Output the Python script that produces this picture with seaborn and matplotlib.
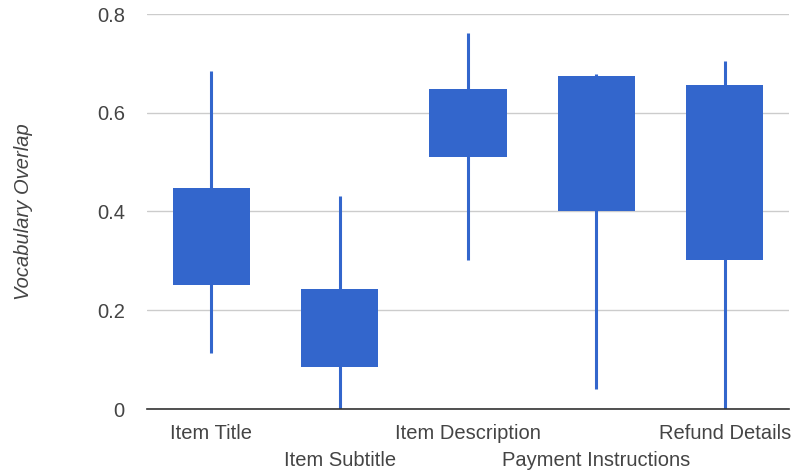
import pandas as pd
import matplotlib.pyplot as plt
import matplotlib.transforms as mtransforms
import seaborn as sns

# candlestick-like chart: whisker = low..high, box = q1..q3
categories = ["Item Title", "Item Subtitle", "Item Description",
              "Payment Instructions", "Refund Details"]
low = [0.113, 0.0, 0.302, 0.040, 0.0]
q1 = [0.251, 0.085, 0.510, 0.401, 0.302]
q3 = [0.448, 0.243, 0.648, 0.674, 0.656]
high = [0.685, 0.431, 0.761, 0.678, 0.705]

df = pd.DataFrame({"category": categories, "low": low, "q1": q1,
                   "q3": q3, "high": high})
df["height"] = df["q3"] - df["q1"]

sns.set_style("white")
plt.rcParams["font.family"] = ["Liberation Sans", "DejaVu Sans"]

blue = "#3366cc"
fig = plt.figure(figsize=(7.99, 4.73), dpi=100)
ax = fig.add_axes([147 / 799, 64 / 473, 642 / 799, 395 / 473])

ax.vlines(range(len(df)), df["low"], df["high"], color=blue, lw=2.2, zorder=2)
sns.barplot(data=df, x="category", y="height", bottom=df["q1"], color=blue,
            saturation=1, width=0.6, errorbar=None, linewidth=0, zorder=3, ax=ax)

ax.set_ylim(0, 0.8)
ax.set_xlim(-0.5, len(df) - 0.5)
ax.set_yticks([0, 0.2, 0.4, 0.6, 0.8])
ax.set_yticklabels(["0", "0.2", "0.4", "0.6", "0.8"])
ax.yaxis.grid(True, color="#cccccc", lw=1, zorder=0)
ax.set_axisbelow(True)

ax.set_xticks(range(len(df)))
ax.set_xticklabels(categories)
ax.tick_params(axis="x", length=0, pad=11, labelsize=14.5, labelcolor="#444444")
ax.tick_params(axis="y", length=0, pad=16, labelsize=14.5, labelcolor="#444444")

# alternate labels on two rows, like the original
shift = mtransforms.ScaledTranslation(0, -0.27, fig.dpi_scale_trans)
for i, lab in enumerate(ax.get_xticklabels()):
    if i % 2 == 1:
        lab.set_transform(lab.get_transform() + shift)

for s in ["top", "right", "left"]:
    ax.spines[s].set_visible(False)
ax.spines["bottom"].set_color("#333333")
ax.spines["bottom"].set_linewidth(1.2)
ax.spines["bottom"].set_zorder(4)

ax.set_xlabel("")
ax.set_ylabel("Vocabulary Overlap", fontsize=14.5, style="italic",
              color="#444444", labelpad=46)

fig.savefig("out.png", dpi=100)
